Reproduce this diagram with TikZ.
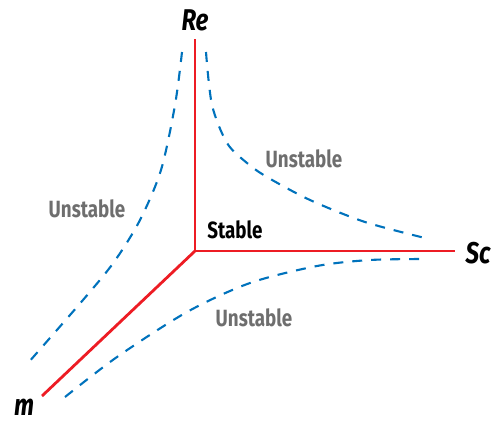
\documentclass[tikz,border=0pt]{standalone}
\usepackage{fontspec}
\setmainfont{Fira Sans}[FakeStretch=0.8]
\usepackage{xcolor}
\usepackage{tikz}

\definecolor{axisred}{RGB}{237,28,36}
\definecolor{curveblue}{RGB}{0,114,188}
\definecolor{labelgray}{RGB}{110,110,110}

\tikzset{
    axis/.style={draw=axisred, line width=2.8pt},
    bound/.style={draw=curveblue, line width=2.1pt, dash pattern=on 10pt off 9pt},
    region/.style={font=\bfseries\fontsize{23.5}{28}\selectfont, inner sep=0pt},
    axislabel/.style={font=\bfseries\itshape\fontsize{30}{34}\selectfont, inner sep=0pt}
}

\begin{document}
\begin{tikzpicture}[x=1pt, y=-1pt]
    \useasboundingbox (0, 0) rectangle (491, 424);

    \coordinate (O) at (195, 251);
    \coordinate (ReEnd) at (195, 39);
    \coordinate (ScEnd) at (455, 251);
    \coordinate (mEnd) at (42, 396);

    \draw[axis] (ReEnd) -- (O) -- (ScEnd);
    \draw[axis] (O) -- (mEnd);

    \draw[bound] plot[smooth] coordinates {(182, 52) (175, 105) (161, 170) (140, 220) (114, 262) (83, 300) (28, 363)};
    \draw[bound] plot[smooth] coordinates {(206, 52) (212, 105) (227, 143) (247, 163) (267, 177) (310, 200) (365, 222) (425, 238)};
    \draw[bound] plot[smooth] coordinates {(65, 397) (117, 357) (187, 312) (250, 283) (317, 266) (370, 260) (425, 259)};

    \node[axislabel] at (195, 20) (Re) {Re};
    \node[axislabel] at (478, 253) (Sc) {Sc};
    \node[axislabel] at (24, 407) (m) {m};

    \node[region, text=labelgray] at (304, 159) (U1) {Unstable};
    \node[region, text=labelgray] at (87, 209) (U2) {Unstable};
    \node[region, text=labelgray] at (254, 318) (U3) {Unstable};
    \node[region] at (235, 230) (S) {Stable};
\end{tikzpicture}
\end{document}
